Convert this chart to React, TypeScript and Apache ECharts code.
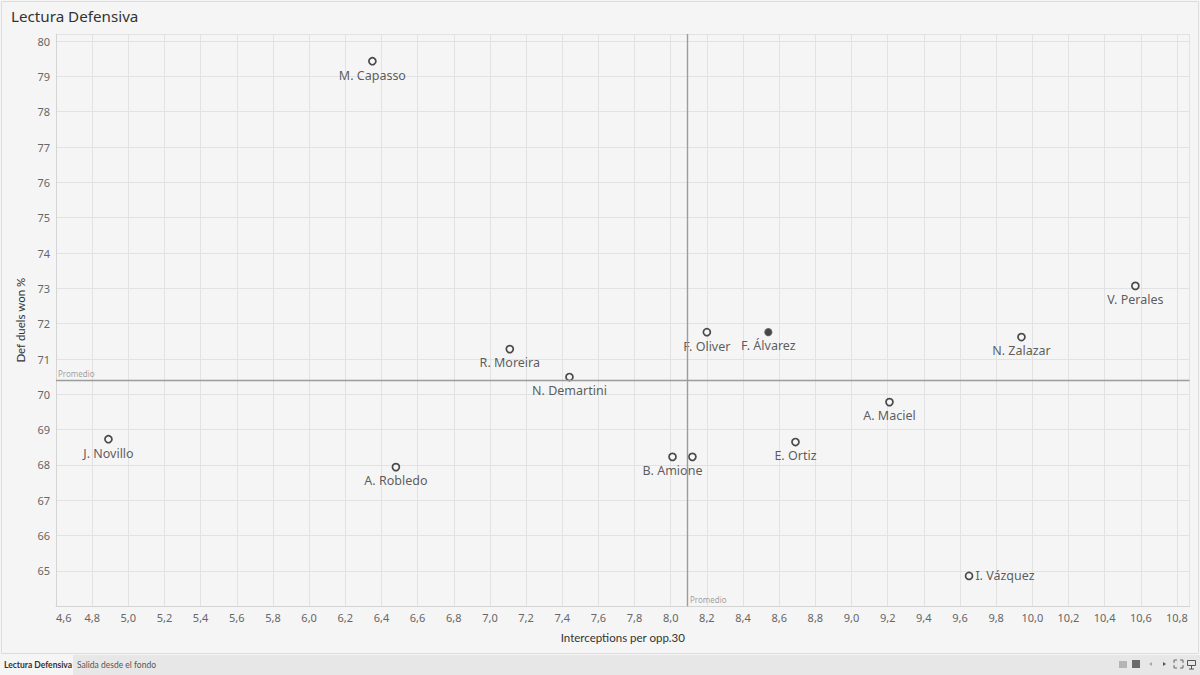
import React, { useEffect, useRef } from 'react';
import * as echarts from 'echarts';

// ---- Data ----
const players = [
  'M. Capasso', 'V. Perales', 'F. Oliver', 'F. Álvarez', 'N. Zalazar', 'R. Moreira',
  'N. Demartini', 'A. Maciel', 'J. Novillo', 'E. Ortiz', 'B. Amione', '', 'A. Robledo', 'I. Vázquez',
];
const interceptionsPer30 = [6.35, 10.57, 8.2, 8.54, 9.94, 7.11, 7.44, 9.21, 4.89, 8.69, 8.01, 8.12, 6.48, 9.65];
const defDuelsWonPct = [79.43, 73.07, 71.76, 71.76, 71.62, 71.28, 70.49, 69.78, 68.73, 68.65, 68.23, 68.23, 67.94, 64.86];
const highlightedPlayers = ['F. Álvarez'];
const labelRightPlayers = ['I. Vázquez'];

const avgInterceptions = 8.09;
const avgDefDuels = 70.41;

const xMin = 4.6;
const xMax = 10.87;
const xInterval = 0.2;
const yMin = 64;
const yMax = 80.2;
const yInterval = 1;

const title = 'Lectura Defensiva';
const xAxisTitle = 'Interceptions per opp.30';
const yAxisTitle = 'Def duels won %';
const refLabel = 'Promedio';
const tabs = ['Lectura Defensiva', 'Salida desde el fondo'];

const FONT = '"Noto Sans", "Open Sans", sans-serif';

export default function App() {
  const ref = useRef<HTMLDivElement>(null);

  useEffect(() => {
    if (!ref.current) return;
    const chart = echarts.init(ref.current, undefined, { renderer: 'svg' });

    const points = players.map((name, i) => {
      const hl = highlightedPlayers.includes(name);
      const right = labelRightPlayers.includes(name);
      return {
        name,
        value: [interceptionsPer30[i], defDuelsWonPct[i]],
        itemStyle: hl
          ? { color: '#1c1c1c', borderColor: '#555', borderWidth: 1.2 }
          : { color: '#f7f7f7', borderColor: '#1e1e1e', borderWidth: 1.7 },
        label: {
          show: name !== '',
          position: right ? 'right' : 'bottom',
          distance: right ? 2 : 3,
        },
      };
    });

    chart.setOption({
      animation: false,
      backgroundColor: '#f5f5f5',
      textStyle: { fontFamily: FONT },
      grid: { left: 56, right: 10.4, top: 34, bottom: 68.7, containLabel: false },
      xAxis: {
        type: 'value',
        min: xMin,
        max: xMax,
        interval: xInterval,
        name: xAxisTitle,
        nameLocation: 'middle',
        nameGap: 25,
        nameTextStyle: { fontSize: 11.5, color: '#333', fontFamily: 'Lato, sans-serif' },
        axisLine: { show: true, lineStyle: { color: '#d4d4d4', width: 1 } },
        axisTick: { show: false },
        axisLabel: {
          color: '#666',
          fontSize: 11,
          margin: 6,
          alignMinLabel: 'left',
          formatter: (v: number) =>
            Math.abs(v / xInterval - Math.round(v / xInterval)) < 1e-6 ? v.toFixed(1).replace('.', ',') : '',
        },
        splitLine: { show: true, lineStyle: { color: '#e2e2e2', width: 1 } },
      },
      yAxis: {
        type: 'value',
        min: yMin,
        max: yMax,
        interval: yInterval,
        name: yAxisTitle,
        nameLocation: 'middle',
        nameGap: 29,
        nameRotate: 90,
        nameTextStyle: { fontSize: 11.5, color: '#333', fontFamily: 'Lato, sans-serif' },
        axisLine: { show: true, lineStyle: { color: '#d4d4d4', width: 1 } },
        axisTick: { show: false },
        axisLabel: {
          color: '#666',
          fontSize: 11,
          margin: 6,
          formatter: (v: number) => (Number.isInteger(Math.round(v * 1000) / 1000) && v > yMin ? String(v) : ''),
        },
        splitLine: { show: true, lineStyle: { color: '#e2e2e2', width: 1 } },
      },
      series: [
        {
          type: 'scatter',
          symbol: 'circle',
          symbolSize: 7,
          data: points,
          label: {
            formatter: '{b}',
            color: '#333',
            fontSize: 12.5,
            fontFamily: FONT,
          },
          markLine: {
            silent: true,
            symbol: ['none', 'none'],
            lineStyle: { color: '#9c9c9c', width: 1.4, type: 'solid' },
            label: { show: false },
            data: [{ xAxis: avgInterceptions }, { yAxis: avgDefDuels }],
          },
          z: 3,
        },
        {
          type: 'scatter',
          symbolSize: 0,
          silent: true,
          data: [
            { value: [avgInterceptions, yMin], label: { position: [3, -11] } },
            { value: [xMin, avgDefDuels], label: { position: [2, -10] } },
          ],
          label: {
            show: true,
            formatter: refLabel,
            color: '#8a8a8a',
            fontSize: 8,
            fontFamily: FONT,
          },
          z: 2,
        },
      ],
      graphic: [
        {
          type: 'rect',
          shape: { x: 1.5, y: 1.5, width: 1197, height: 652 },
          style: { fill: 'none', stroke: '#dcdcdc', lineWidth: 1 },
          silent: true,
        },
        {
          type: 'text',
          left: 11,
          top: 8,
          style: { text: title, fontSize: 15.2, fill: '#333', fontFamily: FONT },
        },
        {
          type: 'rect',
          shape: { x: 0, y: 655, width: 1200, height: 20 },
          style: { fill: '#e7e7e7' },
          silent: true,
        },
        {
          type: 'rect',
          shape: { x: 0, y: 655, width: 73, height: 20 },
          style: { fill: '#f5f5f5' },
          silent: true,
        },
        {
          type: 'text',
          x: 4,
          y: 665,
          style: { text: tabs[0], fontSize: 8.5, fontWeight: 'bold', fill: '#333', fontFamily: 'Lato, sans-serif', verticalAlign: 'middle' },
        },
        {
          type: 'text',
          x: 77,
          y: 665,
          style: { text: tabs[1], fontSize: 8.5, fill: '#555', fontFamily: 'Lato, sans-serif', verticalAlign: 'middle' },
        },
        // bottom-right toolbar icons
        { type: 'rect', shape: { x: 1119, y: 661, width: 8, height: 7 }, style: { fill: '#b5b5b5' }, silent: true },
        { type: 'rect', shape: { x: 1132, y: 660, width: 8, height: 8 }, style: { fill: '#6a6a6a' }, silent: true },
        { type: 'polygon', shape: { points: [[1152, 662], [1152, 666], [1149, 664]] }, style: { fill: '#aaa' }, silent: true },
        { type: 'polygon', shape: { points: [[1163, 662], [1163, 666], [1166, 664]] }, style: { fill: '#555' }, silent: true },
        { type: 'polyline', shape: { points: [[1174, 663], [1174, 660], [1177, 660]] }, style: { stroke: '#666', lineWidth: 1, fill: 'none' }, silent: true },
        { type: 'polyline', shape: { points: [[1180, 660], [1183, 660], [1183, 663]] }, style: { stroke: '#666', lineWidth: 1, fill: 'none' }, silent: true },
        { type: 'polyline', shape: { points: [[1174, 665], [1174, 668], [1177, 668]] }, style: { stroke: '#666', lineWidth: 1, fill: 'none' }, silent: true },
        { type: 'polyline', shape: { points: [[1180, 668], [1183, 668], [1183, 665]] }, style: { stroke: '#666', lineWidth: 1, fill: 'none' }, silent: true },
        { type: 'rect', shape: { x: 1187.5, y: 660.5, width: 8, height: 5 }, style: { fill: 'none', stroke: '#555', lineWidth: 1 }, silent: true },
        { type: 'line', shape: { x1: 1191.5, y1: 666, x2: 1191.5, y2: 669 }, style: { stroke: '#555', lineWidth: 1 }, silent: true },
        { type: 'line', shape: { x1: 1189, y1: 669, x2: 1194, y2: 669 }, style: { stroke: '#555', lineWidth: 1 }, silent: true },
      ],
    });

    return () => chart.dispose();
  }, []);

  return (
    <div
      ref={ref}
      style={{ position: 'fixed', left: 0, top: 0, width: 1200, height: 675, background: '#f5f5f5' }}
    />
  );
}
